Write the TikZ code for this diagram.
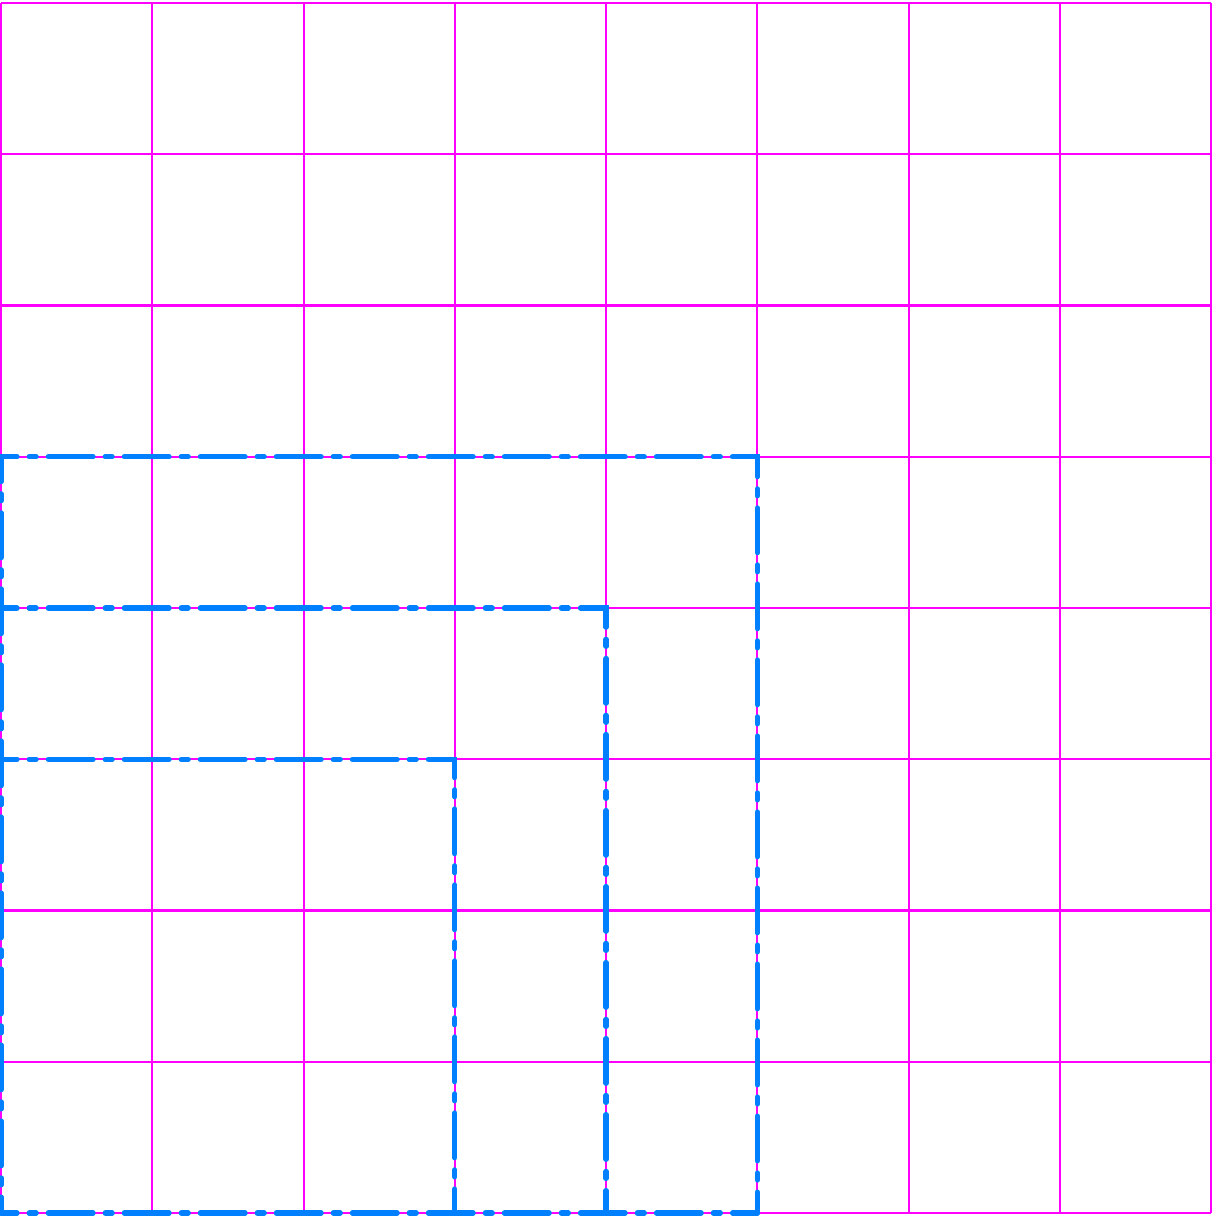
\documentclass[tikz,border=0pt]{standalone}
\usepackage{tikz}

\definecolor{gridpink}{RGB}{255,0,255}
\definecolor{boxblue}{RGB}{0,128,255}

\tikzset{
  gridline/.style={draw=gridpink,line width=0.4pt},
  blockbox/.style={draw=boxblue,line width=1pt,line cap=round,line join=miter,
    dash pattern=on 8.4pt off 2.3pt on 1.3pt off 2.3pt,dash phase=5.4pt}
}

\begin{document}
\begin{tikzpicture}
\useasboundingbox (-0.007,-0.026) rectangle (8.007,8.02);
\draw[gridline] (0,0) grid (8,8);
% outer sides of the nested blocks
\foreach \k in {3,4,5}
  \draw[blockbox] (0,\k) -- (\k,\k) -- (\k,0);
% shared sides along the axes
\draw[blockbox] (0,0) -- (0,5);
\draw[blockbox] (0,0) -- (5,0);
\end{tikzpicture}
\end{document}
